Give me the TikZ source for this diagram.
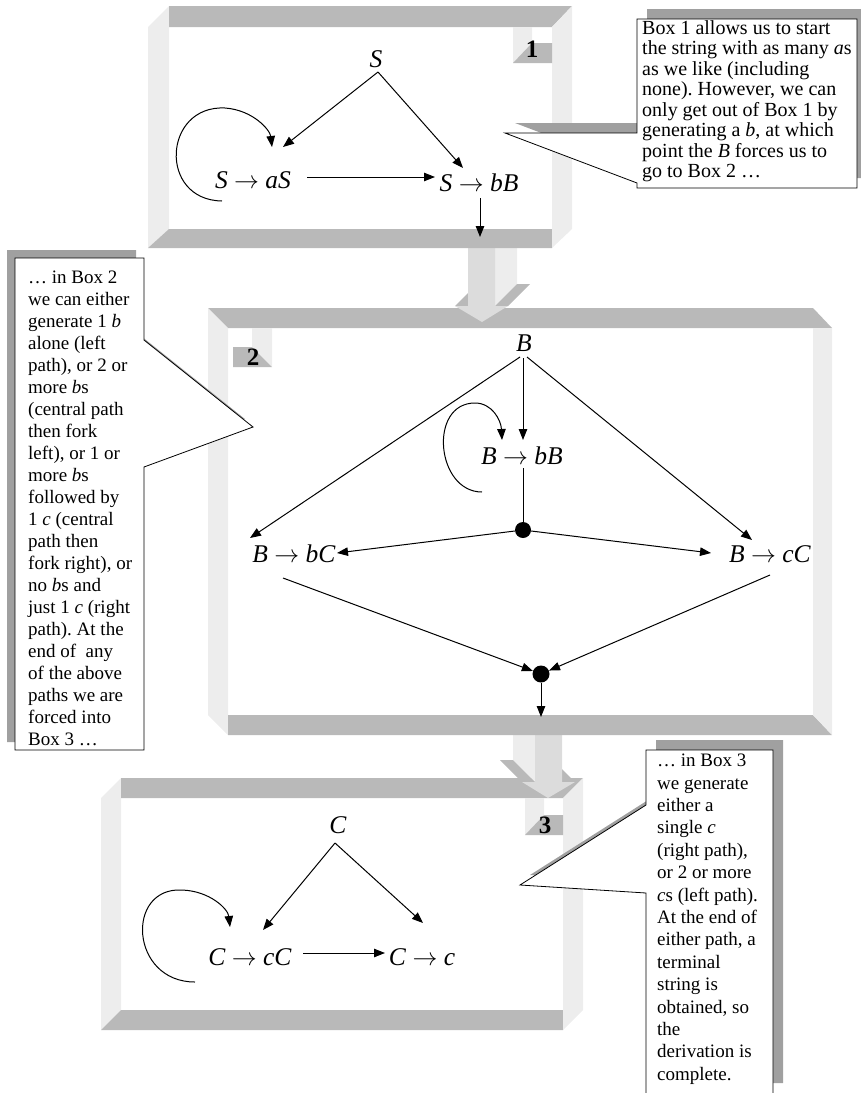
\documentclass[tikz,border=0pt]{standalone}
\usepackage{fontspec}
\setmainfont{Liberation Serif}
\usetikzlibrary{arrows.meta,calc}
\frenchspacing
\definecolor{banddark}{HTML}{B9B9B9}
\definecolor{bandlight}{HTML}{EDEDED}
\definecolor{arrowfront}{HTML}{DCDCDC}
\definecolor{shadowgray}{HTML}{A0A0A0}
\newcommand{\prodrule}[2]{\textit{#1}\hspace{0.25em}$\rightarrow$\hspace{0.25em}\textit{#2}}
\begin{document}
\begin{tikzpicture}[x=1pt,y=-1pt,
  dk/.style={fill=banddark},
  lt/.style={fill=bandlight},
  af/.style={fill=arrowfront},
  edge/.style={-{Triangle[length=11pt,width=8.5pt]}, line width=1pt},
  plain/.style={line width=1pt},
  lbl/.style={font=\fontsize{25.5}{29}\selectfont, inner sep=0pt},
  num/.style={font=\fontsize{25}{29}\selectfont\bfseries, inner sep=0pt},
  dot/.style={circle, fill=black, inner sep=0pt, minimum size=16pt},
  callout/.style={fill=white, draw=black, line width=0.8pt},
  shadow/.style={fill=shadowgray},
  note/.style={inner sep=0pt, align=left, anchor=north west}
  ]
\useasboundingbox (0,0) rectangle (861,1093);

% ---------------- Box 3 ----------------
\fill[lt] (101,798)--(121,778)--(121,1010)--(101,1030)--cycle;
\fill[dk] (121,778)--(583,778)--(563,798)--(121,798)--cycle;
\fill[dk] (101,1030)--(121,1010)--(563,1010)--(563,1030)--cycle;
\fill[lt] (563,798)--(583,778)--(583,1010)--(563,1030)--cycle;
\fill[lt] (525,798)--(544,798)--(544,815)--(525,835)--cycle;
\fill[dk] (525,835)--(544,815)--(563,815)--(563,835)--cycle;
\node[num] (n3) at (545,825) {3};

% ---------------- Arrow 2 -> 3 (depth up-left) ----------------
\fill[lt] (513,725)--(535,725)--(535,782)--(513,760)--cycle;
\fill[dk] (522,782)--(535,782)--(513,760)--(500,760)--cycle;
\fill[dk] (562,782)--(575,782)--(553,760)--(540,760)--cycle;
\fill[af] (535,725)--(562,725)--(562,782)--(575,782)--(548,798)--(522,782)--(535,782)--cycle;

% ---------------- Box 2 ----------------
\fill[dk] (208,308)--(813,308)--(832,328)--(228,328)--cycle;
\fill[lt] (208,308)--(228,328)--(228,735)--(208,715)--cycle;
\fill[dk] (228,715)--(813,715)--(832,735)--(228,735)--cycle;
\fill[lt] (813,328)--(832,328)--(832,735)--(813,715)--cycle;
\fill[lt] (252,328)--(272,328)--(272,367)--(252,347)--cycle;
\fill[dk] (233,347)--(252,347)--(272,367)--(233,367)--cycle;
\node[num] (n2) at (253,357) {2};

% ---------------- Arrow 1 -> 2 (depth up-right) ----------------
\fill[lt] (495,240)--(517,240)--(517,284)--(495,306)--cycle;
\fill[dk] (455,306)--(468,306)--(490,284)--(477,284)--cycle;
\fill[dk] (495,306)--(508,306)--(530,284)--(517,284)--cycle;
\fill[af] (468,240)--(495,240)--(495,306)--(508,306)--(482,322)--(455,306)--(468,306)--cycle;

% ---------------- Box 1 ----------------
\fill[lt] (148,27)--(169,6)--(169,229)--(148,248)--cycle;
\fill[dk] (169,6)--(572,6)--(552,27)--(169,27)--cycle;
\fill[dk] (148,248)--(169,229)--(552,229)--(552,248)--cycle;
\fill[lt] (552,27)--(572,6)--(572,229)--(552,248)--cycle;
\fill[lt] (513,27)--(532,27)--(532,43)--(513,63)--cycle;
\fill[dk] (513,63)--(532,43)--(552,43)--(552,63)--cycle;
\node[num] (n1) at (532,49) {1};

% ---------------- Callouts ----------------
\fill[shadow] (647,9)--(867,9)--(867,178)--(647,178)--(647,173)--(515,123)--(647,123)--cycle;
\draw[callout] (637,19)--(857,19)--(857,188)--(637,188)--(637,183)--(505,133)--(637,133)--cycle;
\node[note, font=\fontsize{20}{20.5}\selectfont] (t1) at (642,20) {Box 1 allows us to start\\
the string with as many \textit{a}s\\
as we like (including\\
none). However, we can\\
only get out of Box 1 by\\
generating a \textit{b}, at which\\
point the \textit{B} forces us to\\
go to Box 2 …};

\fill[shadow] (7,250)--(136,250)--(136,332)--(245,419)--(136,459)--(136,742)--(7,742)--cycle;
\draw[callout] (15,258)--(144,258)--(144,340)--(253,427)--(144,467)--(144,750)--(15,750)--cycle;
\node[note, font=\fontsize{19}{22}\selectfont] (t2) at (28,271) {… in Box 2\\
we can either\\
generate 1 \textit{b}\\
alone (left\\
path), or 2 or\\
more \textit{b}s\\
(central path\\
then fork\\
left), or 1 or\\
more \textit{b}s\\
followed by\\
1 \textit{c} (central\\
path then\\
fork right), or\\
no \textit{b}s and\\
just 1 \textit{c} (right\\
path). At the\\
end of~ any\\
of the above\\
paths we are\\
forced into\\
Box 3 …};

\fill[shadow] (656,740)--(783,740)--(783,1083)--(656,1083)--(656,883)--(530,875)--(656,795)--cycle;
\draw[callout] (646,750)--(773,750)--(773,1100)--(646,1100)--(646,893)--(520,885)--(646,805)--cycle;
\node[note, font=\fontsize{19}{22.4}\selectfont] (t3) at (657,754) {… in Box 3\\
we generate\\
either a\\
single \textit{c}\\
(right path),\\
or 2 or more\\
\textit{c}s (left path).\\
At the end of\\
either path, a\\
terminal\\
string is\\
obtained, so\\
the\\
derivation is\\
complete.};

% ---------------- Box 1 diagram ----------------
\node[lbl] (S1) at (376,59) {\textit{S}};
\node[lbl] (aS1) at (253,180) {\prodrule{S}{aS}};
\node[lbl] (bB1) at (479,183) {\prodrule{S}{bB}};
\coordinate (out1) at (480,237);
\draw[edge] ($(S1)+(2,13)$) -- ($(aS1)+(30,-33)$);
\draw[edge] ($(S1)+(2,13)$) -- ($(bB1)+(-16,-15)$);
\draw[edge] ($(aS1)+(54,-3)$) -- ($(bB1)+(-44,-6)$);
\draw[edge] ($(aS1)+(-31,21)$) .. controls ($(aS1)+(-95,20)$) and ($(aS1)+(-90,-75)$) .. ($(aS1)+(-28,-72)$) .. controls ($(aS1)+(0,-70)$) and ($(aS1)+(17,-50)$) .. ($(aS1)+(19,-33)$);
\draw[edge] ($(bB1)+(1,15)$) -- (out1);

% ---------------- Box 2 diagram ----------------
\node[lbl] (B2) at (524,343) {\textit{B}};
\node[lbl] (bB2) at (522,456) {\prodrule{B}{bB}};
\node[lbl] (bC2) at (294,554) {\prodrule{B}{bC}};
\node[lbl] (cC2) at (770,554) {\prodrule{B}{cC}};
\node[dot] (d1) at (523,530) {};
\node[dot, minimum size=17pt] (d2) at (541,674) {};
\coordinate (out2) at (541,717);
\draw[edge] ($(B2)+(-4,14)$) -- ($(bC2)+(-44,-16)$);
\draw[edge] ($(B2)+(-1,15)$) -- ($(bB2)+(1,-16)$);
\draw[edge] ($(B2)+(3,14)$) -- ($(cC2)+(-18,-14)$);
\draw[plain] ($(bB2)+(1,12)$) -- (d1);
\draw[edge] (d1) -- ($(bC2)+(43,-1)$);
\draw[edge] (d1) -- ($(cC2)+(-59,-1)$);
\draw[edge] ($(bC2)+(-11,24)$) -- (d2);
\draw[edge] ($(cC2)+(0,21)$) -- (d2);
\draw[edge] (d2) -- (out2);
\draw[edge] ($(bB2)+(-40,36)$) .. controls ($(bB2)+(-86,36)$) and ($(bB2)+(-94,-53)$) .. ($(bB2)+(-47,-53)$) .. controls ($(bB2)+(-30,-53)$) and ($(bB2)+(-21,-36)$) .. ($(bB2)+(-20,-16)$);

% ---------------- Box 3 diagram ----------------
\node[lbl] (C3) at (338,825) {\textit{C}};
\node[lbl] (cC3) at (250,957) {\prodrule{C}{cC}};
\node[lbl] (c3) at (422,957) {\prodrule{C}{c}};
\draw[edge] ($(C3)+(-3,18)$) -- ($(cC3)+(13,-27)$);
\draw[edge] ($(C3)+(-3,18)$) -- ($(c3)+(1,-34)$);
\draw[edge] ($(cC3)+(53,-4)$) -- ($(c3)+(-37,-4)$);
\draw[edge] ($(cC3)+(-55,25)$) .. controls ($(cC3)+(-120,25)$) and ($(cC3)+(-125,-70)$) .. ($(cC3)+(-68,-67)$) .. controls ($(cC3)+(-40,-66)$) and ($(cC3)+(-22,-48)$) .. ($(cC3)+(-20,-30)$);
\end{tikzpicture}
\end{document}
